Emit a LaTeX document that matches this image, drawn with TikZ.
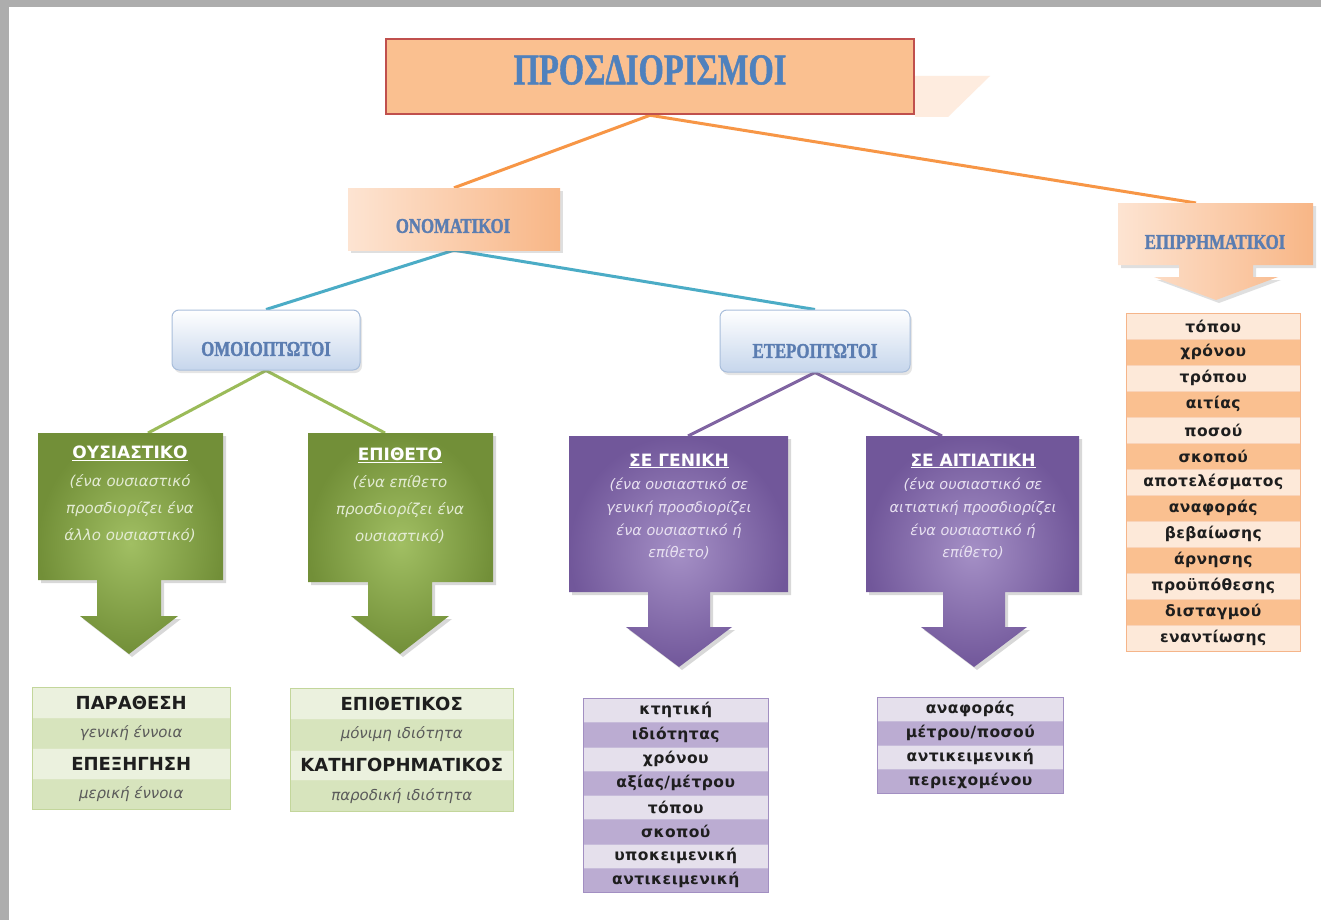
\documentclass[tikz,border=0pt]{standalone}
\usepackage{fontspec}
\usetikzlibrary{shadows,calc}
\setmainfont{DejaVu Sans}
\newfontfamily\titlefont[FakeStretch=0.74,FakeBold=1]{Liberation Serif}
\newfontfamily\hdrfont[FakeStretch=0.8,FakeBold=1.5]{Liberation Serif}
\newfontfamily\lstfont[LetterSpace=3]{DejaVu Sans}
\definecolor{oLine}{HTML}{F79646}
\definecolor{tLine}{HTML}{4BACC6}
\definecolor{gLine}{HTML}{9BBB59}
\definecolor{pLine}{HTML}{8064A2}
\definecolor{titleFill}{HTML}{FAC090}
\definecolor{titleDraw}{HTML}{C0504D}
\definecolor{titleText}{HTML}{4F81BD}
\definecolor{hdrText}{HTML}{5B7DB1}
\definecolor{orL}{HTML}{FDE4D2}
\definecolor{orD}{HTML}{F8B686}
\definecolor{bluD}{HTML}{C6D6EC}
\definecolor{bluDraw}{HTML}{A9BEDB}
\definecolor{grIn}{HTML}{A1BF63}
\definecolor{grOut}{HTML}{728F38}
\definecolor{puIn}{HTML}{A590C6}
\definecolor{puOut}{HTML}{71579A}
\definecolor{gtL}{HTML}{EBF1DE}
\definecolor{gtD}{HTML}{D7E4BD}
\definecolor{gtDraw}{HTML}{C3D69B}
\definecolor{ptL}{HTML}{E5E0EC}
\definecolor{ptD}{HTML}{BBACD2}
\definecolor{ptDraw}{HTML}{A28FC2}
\definecolor{otL}{HTML}{FDE9D9}
\definecolor{otD}{HTML}{FAC090}
\definecolor{otDraw}{HTML}{F5B58A}
\definecolor{edge}{HTML}{ADADAD}
\definecolor{gDesc}{HTML}{E3EBD3}
\definecolor{pDesc}{HTML}{E8E1F1}
\definecolor{listText}{HTML}{1E1E1E}
\definecolor{gItal}{HTML}{5A5A5A}
\pgfdeclarelayer{bg}
\pgfsetlayers{bg,main}
\newcommand\mytable[8]{%
  \foreach \t [count=\i] in {#8} {
    \ifodd\i\relax\def\rc{#6L}\else\def\rc{#6D}\fi
    \node[trow, fill=\rc, draw=#6Draw!60!white, minimum width=#4pt, minimum height=#5pt] (#1\i) at (#2, {#3+(\i-1)*#5}) {\t};
  }
  \draw[#6Draw, line width=1pt] (#2,#3) rectangle ++(#4, {#7*#5});
}
\begin{document}
\begin{tikzpicture}[x=1pt,y=-1pt,
  conn/.style={line width=3pt},
  hdr/.style={font=\hdrfont\bfseries\fontsize{21}{21}\selectfont, text=hdrText, inner sep=0},
  obox/.style={left color=orL, right color=orD, draw=none, inner sep=0,
    drop shadow={shadow xshift=3pt, shadow yshift=-3pt, opacity=0.25}},
  bbox/.style={top color=white, bottom color=bluD, draw=bluDraw, line width=1pt, rounded corners=7pt, inner sep=0,
    drop shadow={shadow xshift=2pt, shadow yshift=-3pt, opacity=0.2}},
  gshape/.style={inner color=grIn, outer color=grOut, drop shadow={shadow xshift=3pt, shadow yshift=-3pt, opacity=0.3}},
  pshape/.style={inner color=puIn, outer color=puOut, drop shadow={shadow xshift=3pt, shadow yshift=-3pt, opacity=0.3}},
  bhead/.style={font=\bfseries\fontsize{17}{17}\selectfont, text=white, inner sep=0},
  gdesc/.style={font=\itshape\fontsize{15}{27}\selectfont, text=gDesc, align=center, inner sep=0},
  pdesc/.style={font=\itshape\fontsize{14.5}{22.7}\selectfont, text=pDesc, align=center, inner sep=0},
  trow/.style={anchor=north west, inner sep=0, line width=0.5pt, text=listText, font=\lstfont\bfseries\fontsize{15.5}{15.5}\selectfont},
  ghead/.style={font=\bfseries\fontsize{18}{18}\selectfont},
  gital/.style={font=\itshape\fontsize{15}{15}\selectfont, text=gItal}
]
\useasboundingbox (0,0) rectangle (1321,920);
\begin{pgfonlayer}{bg}
  \fill[white] (0,0) rectangle (1321,920);
  \fill[edge] (0,0) rectangle (1321,7);
  \fill[edge] (0,0) rectangle (9,920);
\end{pgfonlayer}

% title
\fill[orL!70!white] (915,76) -- (990,76) -- (948,117) -- (915,117) -- cycle;
\node[draw=titleDraw, line width=2.5pt, fill=titleFill, minimum width=528pt, minimum height=75pt, inner sep=0] (title) at (650,76.5) {};
\node[font=\titlefont\bfseries\fontsize{44}{44}\selectfont, text=titleText, inner sep=0] (titlet) at (650,70) {ΠΡΟΣΔΙΟΡΙΣΜΟΙ};

% level 1
\node[obox, minimum width=212pt, minimum height=62pt] (onom) at (454,219) {};
\node[hdr] (onomt) at (453,226) {ΟΝΟΜΑΤΙΚΟΙ};

\path[obox] (1118,203) -- (1313,203) -- (1313,265) -- (1253,265) -- (1253,277) -- (1278,277) -- (1216,300) -- (1154,277) -- (1179,277) -- (1179,265) -- (1118,265) -- cycle;
\node[hdr] (epi) at (1215,242) {ΕΠΙΡΡΗΜΑΤΙΚΟΙ};
\coordinate (epitop) at (1196,203);

% level 2
\node[bbox, minimum width=188pt, minimum height=60pt] (omo) at (266,340) {};
\node[hdr] (omot) at (266,349) {ΟΜΟΙΟΠΤΩΤΟΙ};
\node[bbox, minimum width=190pt, minimum height=62pt] (ete) at (815,341) {};
\node[hdr] (etet) at (815,351) {ΕΤΕΡΟΠΤΩΤΟΙ};

% level 3 green
\path[gshape] (38,433) -- (223,433) -- (223,580) -- (161,580) -- (161,616) -- (178,616) -- (129,654) -- (80,616) -- (97,616) -- (97,580) -- (38,580) -- cycle;
\coordinate (g1top) at (148,433);
\node[bhead] (g1) at (130,453) {\underline{ΟΥΣΙΑΣΤΙΚΟ}};
\node[gdesc] (g1d) at (130,508) {(ένα ουσιαστικό\\προσδιορίζει ένα\\άλλο ουσιαστικό)};

\path[gshape] (308,433) -- (493,433) -- (493,582) -- (432,582) -- (432,616) -- (449,616) -- (400,654) -- (351,616) -- (368,616) -- (368,582) -- (308,582) -- cycle;
\coordinate (g2top) at (385,433);
\node[bhead] (g2) at (400,455) {\underline{ΕΠΙΘΕΤΟ}};
\node[gdesc] (g2d) at (400,509) {(ένα επίθετο\\προσδιορίζει ένα\\ουσιαστικό)};

% level 3 purple
\path[pshape] (569,436) -- (788,436) -- (788,592) -- (710,592) -- (710,627) -- (732,627) -- (679,667) -- (626,627) -- (648,627) -- (648,592) -- (569,592) -- cycle;
\coordinate (p1top) at (688,436);
\node[bhead] (p1) at (679,461) {\underline{ΣΕ ΓΕΝΙΚΗ}};
\node[pdesc] (p1d) at (679,519) {(ένα ουσιαστικό σε\\γενική προσδιορίζει\\ένα ουσιαστικό ή\\επίθετο)};

\path[pshape] (866,436) -- (1079,436) -- (1079,592) -- (1005,592) -- (1005,627) -- (1027,627) -- (974,667) -- (921,627) -- (943,627) -- (943,592) -- (866,592) -- cycle;
\coordinate (p2top) at (942,436);
\node[bhead] (p2) at (973,461) {\underline{ΣΕ ΑΙΤΙΑΤΙΚΗ}};
\node[pdesc] (p2d) at (973,519) {(ένα ουσιαστικό σε\\αιτιατική προσδιορίζει\\ένα ουσιαστικό ή\\επίθετο)};

% connectors
\begin{pgfonlayer}{bg}
  \draw[conn, oLine] (title.south) -- (onom.north);
  \draw[conn, oLine] (title.south) -- (epitop);
  \draw[conn, tLine] (onom.south) -- (omo.north);
  \draw[conn, tLine] (onom.south) -- (ete.north);
  \draw[conn, gLine] (omo.south) -- (g1top);
  \draw[conn, gLine] (omo.south) -- (g2top);
  \draw[conn, pLine] (ete.south) -- (p1top);
  \draw[conn, pLine] (ete.south) -- (p2top);
\end{pgfonlayer}

% green tables
\node[trow, fill=gtL, draw=gtDraw!60!white, minimum width=198pt, minimum height=30.5pt, ghead] (ga1) at (32,687) {ΠΑΡΑΘΕΣΗ};
\node[trow, fill=gtD, draw=gtDraw!60!white, minimum width=198pt, minimum height=30.5pt, gital] (ga2) at (32,717.5) {γενική έννοια};
\node[trow, fill=gtL, draw=gtDraw!60!white, minimum width=198pt, minimum height=30.5pt, ghead] (ga3) at (32,748) {ΕΠΕΞΗΓΗΣΗ};
\node[trow, fill=gtD, draw=gtDraw!60!white, minimum width=198pt, minimum height=30.5pt, gital] (ga4) at (32,778.5) {μερική έννοια};
\draw[gtDraw, line width=1pt] (32,687) rectangle (230,809);

\node[trow, fill=gtL, draw=gtDraw!60!white, minimum width=223pt, minimum height=30.75pt, ghead] (gb1) at (290,688) {ΕΠΙΘΕΤΙΚΟΣ};
\node[trow, fill=gtD, draw=gtDraw!60!white, minimum width=223pt, minimum height=30.75pt, gital] (gb2) at (290,718.75) {μόνιμη ιδιότητα};
\node[trow, fill=gtL, draw=gtDraw!60!white, minimum width=223pt, minimum height=30.75pt, ghead] (gb3) at (290,749.5) {ΚΑΤΗΓΟΡΗΜΑΤΙΚΟΣ};
\node[trow, fill=gtD, draw=gtDraw!60!white, minimum width=223pt, minimum height=30.75pt, gital] (gb4) at (290,780.25) {παροδική ιδιότητα};
\draw[gtDraw, line width=1pt] (290,688) rectangle (513,811);

% purple tables
\mytable{pa}{583}{698}{185}{24.25}{pt}{8}{κτητική,ιδιότητας,χρόνου,αξίας/μέτρου,τόπου,σκοπού,υποκειμενική,αντικειμενική}
\mytable{pb}{877}{697}{186}{24}{pt}{4}{αναφοράς,μέτρου/ποσού,αντικειμενική,περιεχομένου}

% orange table
\mytable{oa}{1126}{313}{174}{26}{ot}{13}{τόπου,χρόνου,τρόπου,αιτίας,ποσού,σκοπού,αποτελέσματος,αναφοράς,βεβαίωσης,άρνησης,προϋπόθεσης,δισταγμού,εναντίωσης}
\end{tikzpicture}
\end{document}
